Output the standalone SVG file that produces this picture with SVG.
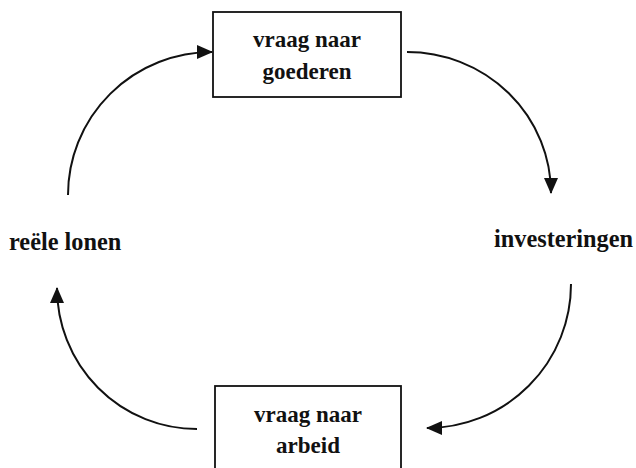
<svg xmlns="http://www.w3.org/2000/svg" width="636" height="468" viewBox="0 0 636 468">
<style>
.box{fill:#fff;stroke:#111;stroke-width:1.8}
.t{font-family:"Liberation Serif","Times New Roman",serif;font-weight:bold;font-size:23px;fill:#111;text-anchor:middle}
.lbl{font-family:"Liberation Serif","Times New Roman",serif;font-weight:bold;font-size:24.3px;fill:#111}
.arc{fill:none;stroke:#111;stroke-width:2;marker-end:url(#ah)}
</style>
<defs>
<marker id="ah" viewBox="0 0 16 14" refX="15" refY="7" markerWidth="16" markerHeight="14" markerUnits="userSpaceOnUse" orient="auto">
<path d="M0,0 L16,7 L0,14 Z" fill="#111"/>
</marker>
</defs>
<rect width="636" height="468" fill="#fff"/>
<g id="connectors">
<path class="arc" d="M68,195 A144,143 0 0 1 212,52"/>
<path class="arc" d="M407,52 A144,141 0 0 1 551,193"/>
<path class="arc" d="M571,284 A144,144 0 0 1 427,428"/>
<path class="arc" d="M197,429 A140,141 0 0 1 57,288"/>
</g>
<g id="node-goederen">
<rect class="box" x="213" y="12" width="188" height="85"/>
<text class="t" x="307" y="47">vraag naar</text>
<text class="t" x="307" y="79">goederen</text>
</g>
<g id="node-arbeid">
<rect class="box" x="215" y="386" width="186" height="90"/>
<text class="t" x="308" y="422">vraag naar</text>
<text class="t" x="308" y="453">arbeid</text>
</g>
<g id="node-lonen">
<text class="lbl" x="9" y="250">reële lonen</text>
</g>
<g id="node-investeringen">
<text class="lbl" x="494" y="247">investeringen</text>
</g>
</svg>
